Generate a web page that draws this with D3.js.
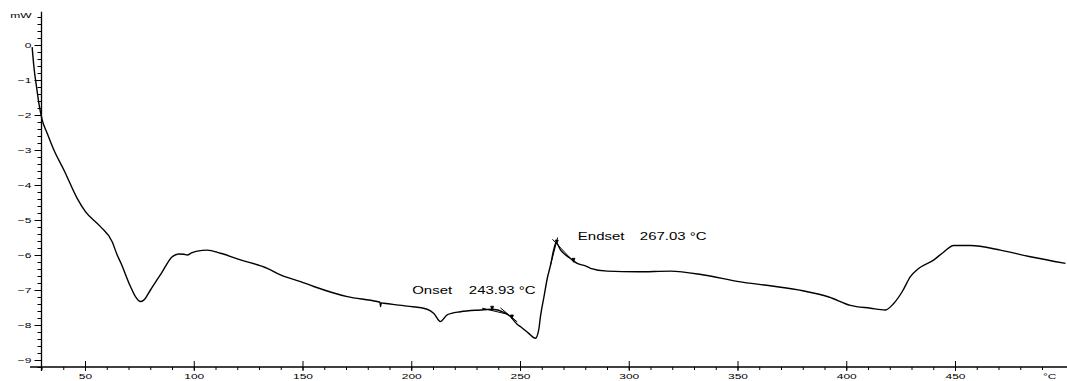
<!DOCTYPE html>
<html>
<head>
<meta charset="utf-8">
<script src="https://cdn.jsdelivr.net/npm/d3@7"></script>
<style>
  html, body { margin: 0; padding: 0; background: #fff; }
  svg { display: block; font-family: "Liberation Sans", Arial, Helvetica, sans-serif; }
</style>
</head>
<body>
<svg id="chart" width="1067" height="381"></svg>
<script>
// DSC heating curve: heat flow (mW) against temperature (°C)
const temperature = [
  25.7, 26.5, 27.7, 28.8, 30.3, 32.6, 35.7, 40.3, 46.4, 50.2,
  57.1, 62.5, 64.8, 66.3, 70.9, 73.2, 75.5, 77.0, 80.1, 85.5,
  90.1, 93.1, 95.5, 97.0, 99.0, 101.6, 106.2, 112.3, 121.5, 133.8,
  139.9, 149.1, 155.2, 170.6, 184.3, 185.6, 185.9, 186.2, 187.4, 198.1,
  207.3, 210.4, 213.4, 216.5, 222.6, 231.8, 237.2, 242.6, 245.6, 248.7,
  250.3, 254.0, 257.1, 258.6, 259.4, 261.0, 262.6, 264.0, 265.5, 266.6,
  268.7, 273.2, 276.3, 280.1, 282.4, 290.1, 303.9, 319.2, 334.5, 350.6,
  365.0, 380.0, 392.0, 401.9, 411.1, 418.0, 421.9, 425.7, 429.5,
  433.4, 440.3, 444.1, 449.5, 457.1, 470.9, 484.7, 500.8
];
const heatFlow = [
  -0.06, -0.62, -1.19, -1.67, -2.14, -2.52, -3.00, -3.57, -4.38, -4.76,
  -5.19, -5.62, -6.00, -6.20, -6.90, -7.19, -7.33, -7.29, -7.00, -6.48,
  -6.05, -5.97, -5.98, -6.00, -5.94, -5.89, -5.86, -5.95, -6.14, -6.38,
  -6.57, -6.76, -6.90, -7.19, -7.33, -7.35, -7.47, -7.37, -7.38, -7.46,
  -7.55, -7.67, -7.90, -7.71, -7.62, -7.57, -7.55, -7.64, -7.76, -7.98,
  -8.05, -8.24, -8.38, -8.14, -7.76, -7.20, -6.65, -6.30, -5.85, -5.64,
  -5.86, -6.10, -6.24, -6.31, -6.38, -6.46, -6.48, -6.46, -6.57, -6.76,
  -6.88, -7.02, -7.20, -7.44, -7.52, -7.57, -7.38, -7.05, -6.62,
  -6.38, -6.14, -5.95, -5.73, -5.73, -5.86, -6.05, -6.24
];

// Axis ticks
const xMajorTicks = [50, 100, 150, 200, 250, 300, 350, 400, 450];
const xMinorTicks = d3.range(30, 491, 10);
const yMajorTicks = [0, -1, -2, -3, -4, -5, -6, -7, -8, -9];
const yMinorTicks = d3.range(-46, 5).map(d => d / 5);

// Evaluation results: onset / endset temperatures and their tangent lines
const onsetTemp = 243.93;
const endsetTemp = 267.03;
const onsetTangents = [
  [[232.6, -7.52], [244.1, -7.69]],
  [[241.0, -7.51], [248.7, -7.91]]
];
const endsetTangents = [
  [[264.9, -5.55], [274.8, -6.20]],
  [[264.0, -6.30], [267.3, -5.50]]
];
const onsetMarks = [[237.2, -7.55], [246.3, -7.80]];
const endsetMarks = [[266.9, -5.66], [274.6, -6.18]];

const svg = d3.select("#chart");
const x = d3.scaleLinear().domain([30, 500]).range([41.5, 41.5 + 470 * 2.175]);
const y = d3.scaleLinear().domain([-9.2, 0.95]).range([367, 11.75]);
const stretch = 1.5;

// text helper: horizontally widened labels
function label(sel, px, py, str, size, anchor) {
  sel.append("text")
    .attr("transform", `translate(${px},${py}) scale(${stretch},1)`)
    .attr("text-anchor", anchor)
    .attr("font-size", size)
    .attr("fill", "#000")
    .text(str);
}

// X axis
const xAxisG = svg.append("g").attr("transform", `translate(0,${y(-9.2)})`);
xAxisG.append("line").attr("x1", 30).attr("x2", 1067).attr("y1", 0).attr("y2", 0)
  .attr("stroke", "#000").attr("stroke-width", 1.3);
xAxisG.append("g")
  .call(d3.axisBottom(x).tickValues(xMinorTicks).tickSize(3).tickFormat(""))
  .call(g => g.select(".domain").remove())
  .call(g => g.selectAll("line").attr("stroke-width", 1));
xAxisG.append("g")
  .call(d3.axisBottom(x).tickValues(xMajorTicks).tickSize(4).tickFormat(d3.format("d")))
  .call(g => g.select(".domain").remove())
  .call(g => g.selectAll("line").attr("y1", -6).attr("y2", 4).attr("stroke-width", 1))
  .call(g => g.selectAll("text")
    .attr("y", 12).attr("dy", null)
    .attr("font-size", 8)
    .attr("font-family", "Liberation Sans, Arial, sans-serif")
    .attr("transform", `scale(${stretch},1)`));
label(svg, 1043, 379, "°C", 8, "start");

// Y axis
const yAxisG = svg.append("g").attr("transform", `translate(${x(30)},0)`);
yAxisG.append("line").attr("x1", 0).attr("x2", 0).attr("y1", y(0.95)).attr("y2", y(-9.2) + 4)
  .attr("stroke", "#000").attr("stroke-width", 1.3);
yAxisG.append("g")
  .call(d3.axisLeft(y).tickValues(yMinorTicks).tickSize(4).tickFormat(""))
  .call(g => g.select(".domain").remove())
  .call(g => g.selectAll("line").attr("stroke-width", 1));
yAxisG.append("g")
  .call(d3.axisLeft(y).tickValues(yMajorTicks).tickSize(7).tickFormat(d3.format("d")))
  .call(g => g.select(".domain").remove())
  .call(g => g.selectAll("line").attr("stroke-width", 1))
  .call(g => g.selectAll("text")
    .attr("x", -10 / stretch).attr("dy", "0.35em")
    .attr("font-size", 8)
    .attr("font-family", "Liberation Sans, Arial, sans-serif")
    .attr("transform", `scale(${stretch},1)`));
label(svg, 31.5, 18, "mW", 8, "end");

// Heat-flow curve
const series = temperature.map((t, i) => [t, heatFlow[i]]);
const line = d3.line().x(d => x(d[0])).y(d => y(d[1])).curve(d3.curveMonotoneX);
svg.append("path")
  .datum(series)
  .attr("d", line)
  .attr("fill", "none")
  .attr("stroke", "#000")
  .attr("stroke-width", 1.4)
  .attr("stroke-linejoin", "round");

// Tangent construction lines
const seg = d3.line().x(d => x(d[0])).y(d => y(d[1]));
svg.append("g").selectAll("path")
  .data(onsetTangents.concat(endsetTangents))
  .join("path")
  .attr("d", seg)
  .attr("fill", "none")
  .attr("stroke", "#000")
  .attr("stroke-width", 1);

// Small evaluation-limit markers
svg.append("g").selectAll("path")
  .data(onsetMarks.concat(endsetMarks))
  .join("path")
  .attr("d", d => {
    const px = x(d[0]), py = y(d[1]);
    return `M${px - 1.5},${py - 3}L${px + 1.5},${py - 3}L${px},${py + 1}Z`;
  })
  .attr("fill", "#000")
  .attr("stroke", "#000")
  .attr("stroke-width", 0.8);

// Annotation labels
const ox = x(onsetTemp);
label(svg, ox - 94.6, 294, "Onset", 10, "start");
label(svg, ox - 38, 294, `${onsetTemp.toFixed(2)} °C`, 10, "start");
const ex = x(endsetTemp);
label(svg, ex + 20.8, 240, "Endset", 10, "start");
label(svg, ex + 82.8, 240, `${endsetTemp.toFixed(2)} °C`, 10, "start");
</script>
</body>
</html>
